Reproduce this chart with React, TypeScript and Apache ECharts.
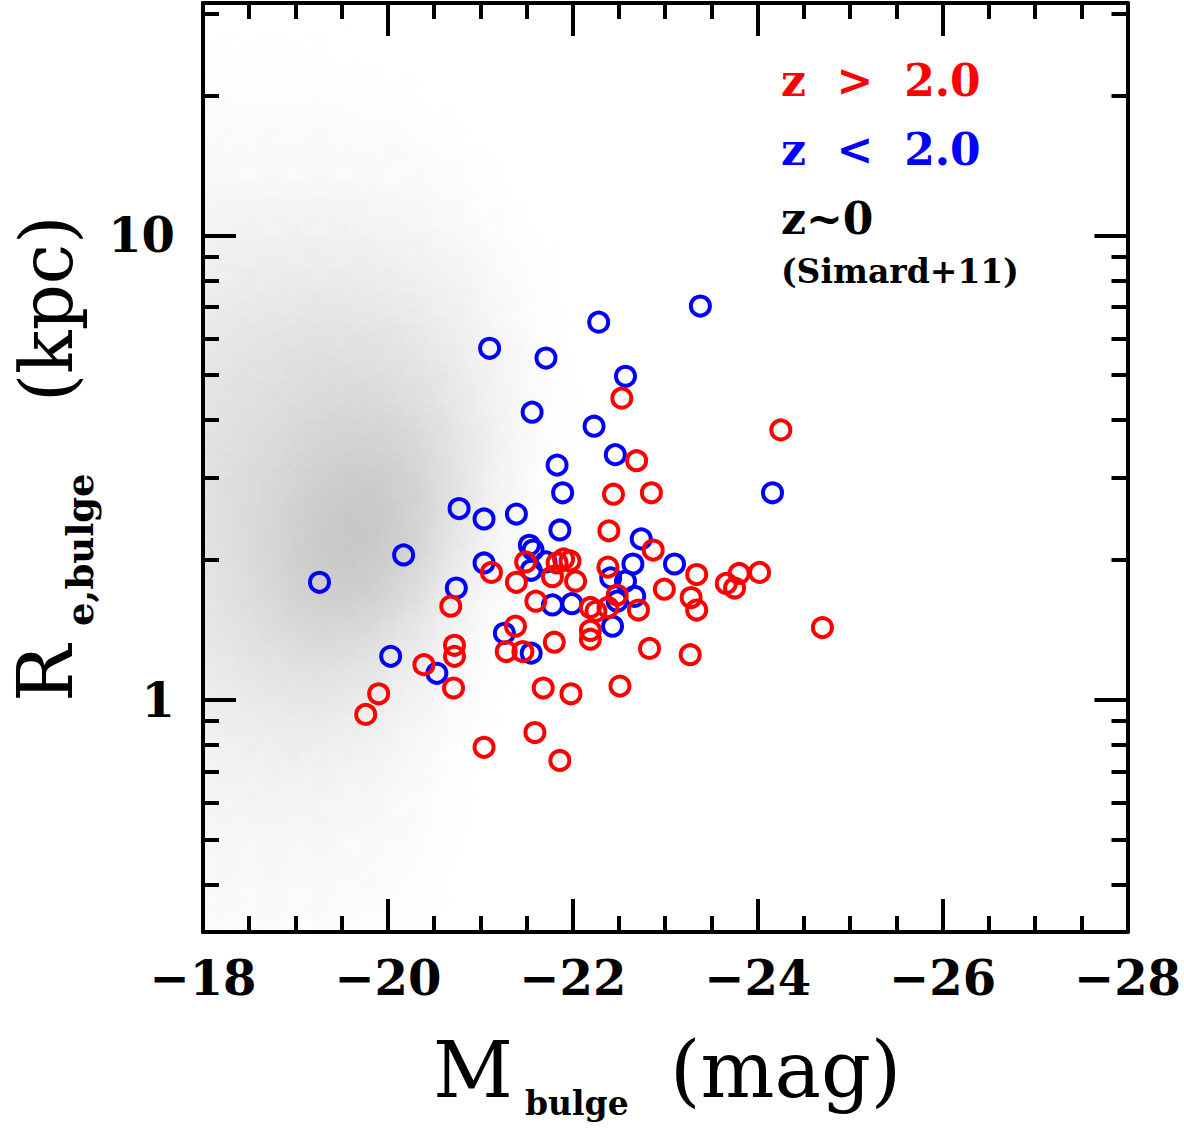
import React, { useEffect, useRef } from "react";
import * as echarts from "echarts";

const FONT = '"DejaVu Serif", serif';

// x axis (M_bulge, mag) tick labels
const xTickValues = [-18, -20, -22, -24, -26, -28];
// y axis (R_e,bulge, kpc) ticks
const yMajorTicks = [1, 10];
const yMinorTicks = [0.4, 0.5, 0.6, 0.7, 0.8, 0.9, 2, 3, 4, 5, 6, 7, 8, 9, 20, 30];

// z > 2.0 sample (red open circles)
const redMag = [-19.76, -19.9, -20.39, -20.68, -20.72, -20.72, -20.71, -21.04, -21.12, -21.28, -21.38, -21.39, -21.46, -21.49, -21.59, -21.6, -21.68, -21.78, -21.8, -21.86, -21.83, -21.9, -21.97, -21.98, -22.03, -22.19, -22.25, -22.19, -22.19, -22.38, -22.38, -22.39, -22.44, -22.48, -22.51, -22.53, -22.69, -22.71, -22.83, -22.85, -22.87, -22.99, -23.27, -23.28, -23.34, -23.34, -23.66, -23.75, -23.8, -24.02, -24.25, -24.7];
const redRe = [0.93, 1.03, 1.19, 1.59, 1.31, 1.24, 1.06, 0.79, 1.88, 1.27, 1.44, 1.79, 1.27, 1.98, 0.85, 1.63, 1.06, 1.84, 1.33, 0.74, 1.97, 2.01, 1.99, 1.03, 1.8, 1.58, 1.55, 1.41, 1.35, 1.93, 1.58, 2.31, 2.77, 1.68, 1.07, 4.46, 3.27, 1.56, 1.29, 2.79, 2.1, 1.73, 1.25, 1.66, 1.56, 1.86, 1.78, 1.74, 1.87, 1.88, 3.81, 1.43];

// z < 2.0 sample (blue open circles)
const blueMag = [-19.26, -20.17, -20.03, -20.53, -20.74, -20.77, -21.04, -21.1, -21.71, -21.56, -22.28, -22.57, -22.23, -21.83, -21.89, -22.46, -21.39, -21.86, -23.38, -24.16, -22.74, -22.65, -23.1, -22.41, -22.57, -22.67, -22.48, -22.43, -21.53, -21.57, -21.71, -21.55, -21.04, -21.78, -21.99, -21.26, -21.55];
const blueRe = [1.79, 2.05, 1.24, 1.14, 1.74, 2.58, 2.45, 5.71, 5.44, 4.16, 6.5, 4.97, 3.88, 3.2, 2.79, 3.37, 2.51, 2.32, 7.04, 2.79, 2.22, 1.96, 1.96, 1.83, 1.8, 1.67, 1.63, 1.44, 2.15, 2.1, 1.98, 1.9, 1.97, 1.6, 1.61, 1.39, 1.26];

// z~0 (Simard+11) background: estimated relative point density per cell
const cloudMagCenters = [-17.75, -18.25, -18.75, -19.25, -19.75, -20.25, -20.75, -21.25, -21.75];
const cloudLogReCenters = [1.45, 1.35, 1.25, 1.15, 1.05, 0.95, 0.85, 0.75, 0.65, 0.55, 0.45, 0.35, 0.25, 0.15, 0.05, -0.05, -0.15, -0.25, -0.35, -0.45];
const cloudDensity = [
  [0.01, 0.01, 0.01, 0.01, 0.01, 0.01, 0, 0, 0],
  [0.015, 0.015, 0.015, 0.015, 0.01, 0.01, 0.005, 0, 0],
  [0.02, 0.02, 0.02, 0.02, 0.02, 0.015, 0.01, 0, 0],
  [0.03, 0.03, 0.03, 0.03, 0.03, 0.02, 0.015, 0.005, 0],
  [0.045, 0.045, 0.05, 0.05, 0.045, 0.04, 0.03, 0.01, 0],
  [0.07, 0.07, 0.08, 0.08, 0.075, 0.06, 0.045, 0.02, 0.005],
  [0.09, 0.09, 0.1, 0.11, 0.1, 0.09, 0.065, 0.03, 0.005],
  [0.11, 0.11, 0.13, 0.14, 0.14, 0.12, 0.085, 0.04, 0.01],
  [0.12, 0.12, 0.15, 0.16, 0.17, 0.15, 0.1, 0.05, 0.01],
  [0.13, 0.13, 0.16, 0.19, 0.21, 0.19, 0.12, 0.045, 0.01],
  [0.14, 0.14, 0.18, 0.22, 0.26, 0.23, 0.12, 0.035, 0.005],
  [0.13, 0.13, 0.18, 0.25, 0.29, 0.23, 0.09, 0.025, 0],
  [0.12, 0.12, 0.18, 0.25, 0.26, 0.17, 0.06, 0.015, 0],
  [0.11, 0.11, 0.16, 0.19, 0.17, 0.11, 0.04, 0.01, 0],
  [0.09, 0.09, 0.12, 0.13, 0.11, 0.07, 0.025, 0.005, 0],
  [0.07, 0.07, 0.09, 0.09, 0.07, 0.045, 0.015, 0, 0],
  [0.055, 0.055, 0.065, 0.065, 0.055, 0.035, 0.01, 0, 0],
  [0.045, 0.045, 0.045, 0.045, 0.035, 0.025, 0.01, 0, 0],
  [0.035, 0.035, 0.035, 0.035, 0.025, 0.02, 0.005, 0, 0],
  [0.03, 0.03, 0.03, 0.03, 0.02, 0.015, 0.005, 0, 0],
];

const log10 = (v: number) => Math.log10(v);

export default function App() {
  const ref = useRef<HTMLDivElement>(null);

  useEffect(() => {
    if (!ref.current) return;
    const chart = echarts.init(ref.current, undefined, { renderer: "svg" });

    const cloudData: number[][] = [];
    cloudLogReCenters.forEach((ly, r) => {
      cloudMagCenters.forEach((mx, c) => {
        cloudData.push([mx, ly, cloudDensity[r][c]]);
      });
    });

    const red = redMag.map((m, i) => [m, log10(redRe[i])]);
    const blue = blueMag.map((m, i) => [m, log10(blueRe[i])]);

    const axisLineStyle = { color: "#000", width: 4 };
    const tickLineStyle = { color: "#000", width: 4 };

    const xBase = {
      type: "value" as const,
      min: -28,
      max: -18,
      interval: 2,
      inverse: true,
      axisLine: { show: true, onZero: false, lineStyle: axisLineStyle },
      axisTick: { show: true, inside: true, length: 33, lineStyle: tickLineStyle },
      minorTick: { show: true, splitNumber: 4, length: 16, lineStyle: tickLineStyle },
      splitLine: { show: false },
      minorSplitLine: { show: false },
    };

    const yBase = {
      type: "value" as const,
      min: -0.5,
      max: 1.5,
      interval: 0.5,
      splitLine: { show: false },
    };

    const majorLog = yMajorTicks.map(log10);
    const minorLog = yMinorTicks.map(log10);

    const option: any = {
      animation: false,
      backgroundColor: "#ffffff",
      textStyle: { fontFamily: FONT },
      grid: { left: 203, top: 3, width: 930, height: 929, containLabel: false },
      xAxis: [
        {
          ...xBase,
          position: "bottom",
          axisLabel: {
            show: true,
            margin: 22,
            color: "#000",
            fontFamily: FONT,
            fontWeight: "bold",
            fontSize: 48,
            formatter: (v: number) => (v < 0 ? "\u2212" + Math.abs(v) : String(v)),
            customValues: xTickValues,
          },
        },
        {
          ...xBase,
          position: "top",
          axisLabel: { show: false },
        },
      ],
      yAxis: [
        {
          ...yBase,
          position: "left",
          axisLine: { show: true, onZero: false, lineStyle: axisLineStyle },
          axisTick: { show: true, inside: true, length: 33, lineStyle: tickLineStyle, customValues: majorLog },
          axisLabel: {
            show: true,
            margin: 28,
            color: "#000",
            fontFamily: FONT,
            fontWeight: "bold",
            fontSize: 48,
            customValues: majorLog,
            formatter: (v: number) => String(Math.round(Math.pow(10, v))),
          },
        },
        {
          ...yBase,
          position: "left",
          axisLine: { show: false },
          axisTick: { show: true, inside: true, length: 16, lineStyle: tickLineStyle, customValues: minorLog },
          axisLabel: { show: false },
        },
        {
          ...yBase,
          position: "right",
          axisLine: { show: true, onZero: false, lineStyle: axisLineStyle },
          axisTick: { show: true, inside: true, length: 33, lineStyle: tickLineStyle, customValues: majorLog },
          axisLabel: { show: false },
        },
        {
          ...yBase,
          position: "right",
          axisLine: { show: false },
          axisTick: { show: true, inside: true, length: 16, lineStyle: tickLineStyle, customValues: minorLog },
          axisLabel: { show: false },
        },
      ],
      series: [
        {
          type: "custom",
          name: "z~0 (Simard+11)",
          xAxisIndex: 0,
          yAxisIndex: 0,
          clip: true,
          silent: true,
          z: 1,
          encode: { x: 0, y: 1 },
          data: cloudData,
          renderItem: (params: any, api: any) => {
            const d = api.value(2);
            if (!d || d <= 0) return null;
            const c = api.coord([api.value(0), api.value(1)]);
            const s = api.size([0.5, 0.1]);
            const r = Math.abs(s[0]) * 2;
            const a = Math.min(1, d / 4.19);
            return {
              type: "circle",
              shape: { cx: c[0], cy: c[1], r },
              silent: true,
              style: {
                fill: {
                  type: "radial",
                  x: 0.5,
                  y: 0.5,
                  r: 0.5,
                  colorStops: [
                    { offset: 0, color: `rgba(0,0,0,${a})` },
                    { offset: 1, color: "rgba(0,0,0,0)" },
                  ],
                },
              },
            };
          },
        },
        {
          type: "scatter",
          name: "z < 2.0",
          xAxisIndex: 0,
          yAxisIndex: 0,
          z: 3,
          symbol: "circle",
          symbolSize: 19,
          data: blue,
          itemStyle: { color: "rgba(0,0,0,0)", borderColor: "#0000ff", borderWidth: 4, opacity: 1 },
        },
        {
          type: "scatter",
          name: "z > 2.0",
          xAxisIndex: 0,
          yAxisIndex: 0,
          z: 4,
          symbol: "circle",
          symbolSize: 19,
          data: red,
          itemStyle: { color: "rgba(0,0,0,0)", borderColor: "#ff0000", borderWidth: 4, opacity: 1 },
        },
      ],
      graphic: [
        // legend / annotations
        {
          type: "text",
          x: 781,
          y: 80,
          style: { text: "z  >  2.0", fill: "#ff0000", font: `bold 44px ${FONT}`, textAlign: "left", textVerticalAlign: "middle" },
        },
        {
          type: "text",
          x: 781,
          y: 149,
          style: { text: "z  <  2.0", fill: "#0000ff", font: `bold 44px ${FONT}`, textAlign: "left", textVerticalAlign: "middle" },
        },
        {
          type: "text",
          x: 781,
          y: 218,
          style: { text: "z~0", fill: "#000", font: `bold 44px ${FONT}`, textAlign: "left", textVerticalAlign: "middle" },
        },
        {
          type: "text",
          x: 781,
          y: 271,
          style: { text: "(Simard+11)", fill: "#000", font: `bold 33px ${FONT}`, textAlign: "left", textVerticalAlign: "middle" },
        },
        // x axis title
        {
          type: "text",
          x: 433,
          y: 1070,
          style: { text: "M", fill: "#000", font: `78px ${FONT}`, textAlign: "left", textVerticalAlign: "middle" },
        },
        {
          type: "text",
          x: 525,
          y: 1103,
          style: { text: "bulge", fill: "#000", font: `bold 33px ${FONT}`, textAlign: "left", textVerticalAlign: "middle" },
        },
        {
          type: "text",
          x: 670,
          y: 1070,
          style: { text: "(mag)", fill: "#000", font: `78px ${FONT}`, textAlign: "left", textVerticalAlign: "middle" },
        },
        // y axis title (rotated)
        {
          type: "text",
          x: 45,
          y: 702,
          rotation: Math.PI / 2,
          style: { text: "R", fill: "#000", font: `76px ${FONT}`, textAlign: "left", textVerticalAlign: "middle" },
        },
        {
          type: "text",
          x: 80,
          y: 626,
          rotation: Math.PI / 2,
          style: { text: "e,bulge", fill: "#000", font: `bold 37px ${FONT}`, textAlign: "left", textVerticalAlign: "middle" },
        },
        {
          type: "text",
          x: 47,
          y: 402,
          rotation: Math.PI / 2,
          style: { text: "(kpc)", fill: "#000", font: `72px ${FONT}`, textAlign: "left", textVerticalAlign: "middle" },
        },
      ],
    };

    chart.setOption(option);
    return () => chart.dispose();
  }, []);

  return (
    <div
      ref={ref}
      style={{ position: "absolute", left: 0, top: 0, width: 1184, height: 1136, background: "#ffffff" }}
    />
  );
}
